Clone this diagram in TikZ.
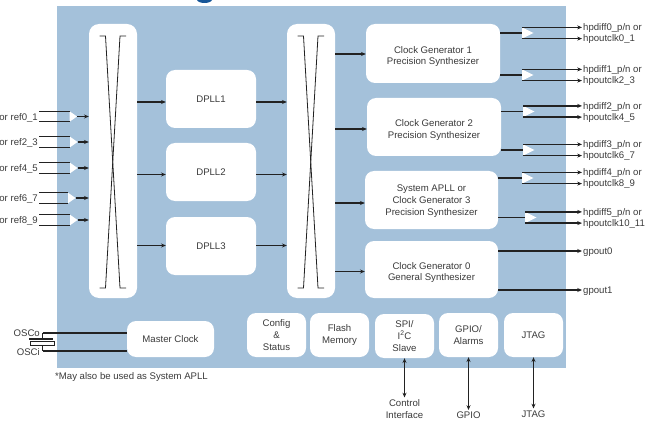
\documentclass[tikz,border=0pt]{standalone}
\usepackage{fontspec}
\setmainfont{Liberation Sans}
\usetikzlibrary{arrows.meta,calc}

\definecolor{panel}{RGB}{164,193,218}
\definecolor{ink}{RGB}{34,34,34}
\definecolor{txt}{RGB}{58,58,58}
\definecolor{titleblue}{RGB}{22,86,152}

% output buffer pair: id, x, y, source node, upper label, lower label
\newcommand{\outpair}[6]{%
  \coordinate (#1) at (#2,#3);
  \coordinate (#1p) at ($(#1)+(0,-5.6)$);
  \coordinate (#1n) at ($(#1)+(0,5.6)$);
  \fill[white] (#1p) -- ($(#1)+(11.5,0)$) -- (#1n) -- cycle;
  \node[sig, anchor=west] (#1pl) at (582,#3-5.6) {#5};
  \node[sig, anchor=west] (#1nl) at (582,#3+5.6) {#6};
  \draw[wire] (#4.east |- #1) -- (#1);
  \draw[arr] (#1p) -- (#1pl.west);
  \draw[arr] (#1n) -- (#1nl.west);
}

% input reference buffer: id, x, y, label
\newcommand{\inpair}[4]{%
  \coordinate (#1) at (#2,#3);
  \coordinate (#1p) at ($(#1)+(0,-5.3)$);
  \coordinate (#1n) at ($(#1)+(0,5.3)$);
  \coordinate (#1t) at ($(#1)+(7.5,0)$);
  \fill[white] (#1p) -- (#1t) -- (#1n) -- cycle;
  \node[sig, anchor=east] (#1l) at (39,#3+0.5) {#4};
  \draw[wire] (#1l.east |- #1p) -- (#1p);
  \draw[wire] (#1l.east |- #1n) -- (#1n);
  \draw[arr] (#1t) -- (muxA.west |- #1t);
}

\begin{document}
\begin{tikzpicture}[x=1pt,y=-1pt,
  font=\fontsize{9.6}{11.8}\selectfont, text=txt,
  box/.style={fill=white, rounded corners=9pt, inner sep=0pt},
  lbl/.style={align=center, inner sep=0pt},
  sig/.style={inner sep=1pt, text height=6.9pt, text depth=0.6pt},
  wire/.style={draw=ink, line width=1.3pt},
  xline/.style={draw=ink, line width=0.8pt},
  arr/.style={wire, -{Stealth[length=4.8pt,width=4pt]}},
  darr/.style={wire, {Stealth[length=4.8pt,width=4pt]}-{Stealth[length=4.8pt,width=4pt]}},
  crossbar/.pic={
    \draw[xline] (-13.5,-125) -- (-7.5,-125) -- (7,127) -- (13,127);
    \draw[xline] (13,-125) -- (7,-125) -- (-7.5,127) -- (-13.5,127);
  },
]
\useasboundingbox (0,0) rectangle (658,422);

% device outline
\fill[panel] (57,6) rectangle (566,368);
\fill[titleblue] (197,0) .. controls (198.5,4) and (210.5,4) .. (212,0) -- cycle;

% crosspoint switches
\node[box, rounded corners=10pt, minimum width=48pt, minimum height=274pt] (muxA) at (113,161) {};
\node[box, rounded corners=10pt, minimum width=48pt, minimum height=274pt] (muxB) at (311,161) {};
\pic at (muxA.center) {crossbar};
\pic at (muxB.center) {crossbar};

% DPLLs
\node[box, minimum width=90pt, minimum height=58pt] (dpll1) at (211,99) {DPLL1};
\node[box, minimum width=90pt, minimum height=58pt] (dpll2) at (211,172) {DPLL2};
\node[box, minimum width=90pt, minimum height=58pt] (dpll3) at (211,246) {DPLL3};
\foreach \d/\s in {dpll1/3,dpll2/2.5,dpll3/-0.5}{
  \coordinate (\d in) at ($(\d.west)+(0,\s)$);
  \coordinate (\d out) at ($(\d.east)+(0,\s)$);
  \draw[arr] (muxA.east |- \d in) -- (\d in);
  \draw[arr] (\d out) -- (muxB.west |- \d out);
}

% clock generators
\node[box, minimum width=134pt, minimum height=59pt] (cg1) at (433,53.5) {};
\node[box, minimum width=134pt, minimum height=58pt] (cg2) at (434,127) {};
\node[box, minimum width=133pt, minimum height=58pt] (cg3) at (431.5,200) {};
\node[box, minimum width=133pt, minimum height=57pt] (cg0) at (431.5,269.5) {};
\node[lbl] (cg1t) at ([yshift=-3pt]cg1.center) {Clock Generator 1\\Precision Synthesizer};
\node[lbl] (cg2t) at ([yshift=-3pt]cg2.center) {Clock Generator 2\\Precision Synthesizer};
\node[lbl] (cg3t) at ([yshift=-1pt]cg3.center) {System APLL or\\Clock Generator 3\\Precision Synthesizer};
\node[lbl] (cg0t) at ([yshift=-3pt]cg0.center) {Clock Generator 0\\General Synthesizer};
\foreach \c/\s in {cg1/0.5,cg2/2,cg3/3,cg0/2}{
  \coordinate (\c in) at ($(\c.west)+(0,\s)$);
  \draw[arr] (muxB.east |- \c in) -- (\c in);
}

% output buffers
\outpair{b0}{522}{33}{cg1}{hpdiff0\_p/n or}{hpoutclk0\_1}
\outpair{b1}{522}{75}{cg1}{hpdiff1\_p/n or}{hpoutclk2\_3}
\outpair{b2}{523}{111.5}{cg2}{hpdiff2\_p/n or}{hpoutclk4\_5}
\outpair{b3}{523}{150}{cg2}{hpdiff3\_p/n or}{hpoutclk6\_7}
\outpair{b4}{522}{178}{cg3}{hpdiff4\_p/n or}{hpoutclk8\_9}
\outpair{b5}{525}{217.5}{cg3}{hpdiff5\_p/n or}{hpoutclk10\_11}

% general purpose outputs
\node[sig, anchor=west] (gp0) at (582,251) {gpout0};
\node[sig, anchor=west] (gp1) at (582,290) {gpout1};
\draw[arr] (cg0.east |- gp0.west) -- (gp0.west);
\draw[arr] (cg0.east |- gp1.west) -- (gp1.west);

% reference inputs
\inpair{r0}{69.5}{116.5}{or ref0\_1}
\inpair{r1}{70}{142}{or ref2\_3}
\inpair{r2}{70}{168}{or ref4\_5}
\inpair{r3}{68}{198}{or ref6\_7}
\inpair{r4}{70}{220}{or ref8\_9}

% bottom row blocks
\node[box, minimum width=87pt, minimum height=36pt] (mclk) at (170.5,339) {Master Clock};
\node[box, lbl, minimum width=59pt, minimum height=44pt] (cfg) at (276.5,335) {Config\\\&\\Status};
\node[box, lbl, minimum width=59pt, minimum height=44pt] (flash) at (339.5,335) {Flash\\Memory};
\node[box, lbl, minimum width=59pt, minimum height=44pt] (spi) at (404.5,336) {SPI/\\I\textsuperscript{2}C\\Slave};
\node[box, lbl, minimum width=59pt, minimum height=44pt] (gpio) at (468.5,335) {GPIO/\\Alarms};
\node[box, lbl, minimum width=59pt, minimum height=44pt] (jtag) at (533.5,335) {JTAG};

% crystal oscillator pins
\node[sig, anchor=east] (osco) at (41,333) {OSCo};
\node[sig, anchor=east] (osci) at (41,352) {OSCi};
\coordinate (xt) at (42.5,333);
\coordinate (xb) at (42.5,351);
\draw[wire] (xt) -- (xt -| mclk.west);
\draw[wire] (xb) -- (xb -| mclk.west);
\draw[wire] (xt) -- (42.5,339);
\draw[wire] (42.5,345) -- (xb);
\draw[ink, line width=1.4pt] (29,339) -- (53,339);
\draw[ink, line width=1pt] (30,341.5) rectangle (54,345);

\node[anchor=west, inner sep=0pt] (note) at (55,377) {*May also be used as System APLL};

% host interfaces
\node[lbl, anchor=north, inner sep=2pt] (ctl) at (404.5,397.5) {Control\\Interface};
\node[lbl, anchor=north, inner sep=2pt] (gpiox) at (468.5,410) {GPIO};
\node[lbl, anchor=north, inner sep=2pt] (jtagx) at (533.5,408.5) {JTAG};
\draw[darr] (spi.south) -- (ctl.north);
\draw[darr] (gpio.south) -- (gpiox.north);
\draw[darr] (jtag.south) -- (jtagx.north);
\end{tikzpicture}
\end{document}
